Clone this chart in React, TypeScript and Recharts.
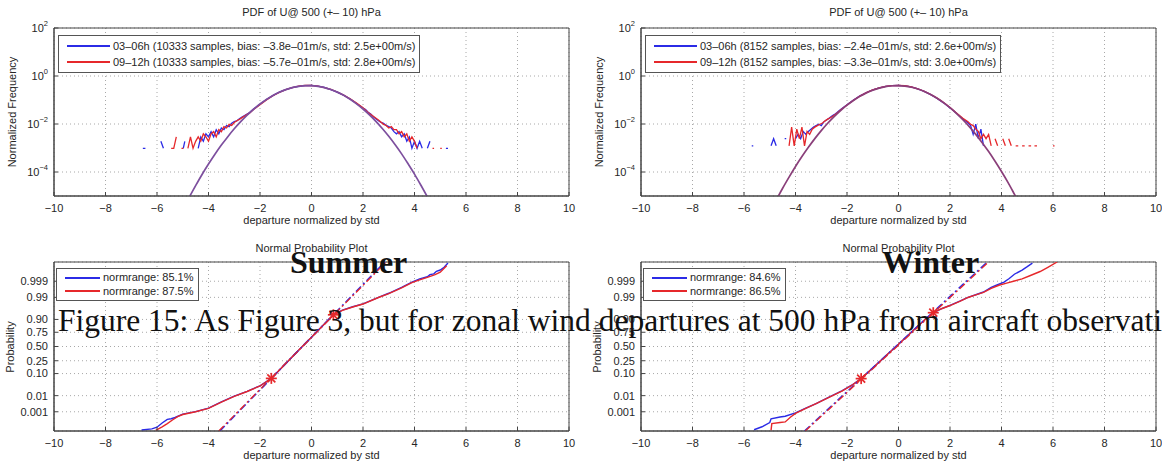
import React from "react";
import {
  ComposedChart,
  Line,
  Scatter,
  XAxis,
  YAxis,
  CartesianGrid,
  ReferenceArea,
} from "recharts";

type Pt = [number, number | null];

// ---- axis ticks / labels ----
const xTicks = [-10, -8, -6, -4, -2, 0, 2, 4, 6, 8, 10];
const pdfTicks = [1e-4, 1e-2, 1, 100];
const pdfTickExp = ["\u22124", "\u22122", "0", "2"];
const probTickValues = [0.001, 0.01, 0.1, 0.25, 0.5, 0.75, 0.9, 0.99, 0.999];
const probTickLabels = ["0.001", "0.01", "0.10", "0.25", "0.50", "0.75", "0.90", "0.99", "0.999"];

const summerLegend = [
  "03\u201306h (10333 samples, bias: \u20133.8e\u201301m/s, std: 2.5e+00m/s)",
  "09\u201312h (10333 samples, bias: \u20135.7e\u201301m/s, std: 2.8e+00m/s)",
];
const winterLegend = [
  "03\u201306h (8152 samples, bias: \u20132.4e\u201301m/s, std: 2.6e+00m/s)",
  "09\u201312h (8152 samples, bias: \u20133.3e\u201301m/s, std: 3.0e+00m/s)",
];
const summerRange = ["normrange: 85.1%", "normrange: 87.5%"];
const winterRange = ["normrange: 84.6%", "normrange: 86.5%"];

// ---- PDF panels (normalized frequency, log scale) ----
const summerFit: Pt[] = [
  [-4.75, 8.8e-6], [-4.5, 2.7e-5], [-4.25, 7.9e-5], [-4, 2.14e-4], [-3.75, 5.5e-4],
  [-3.5, 1.32e-3], [-3.25, 2.97e-3], [-3, 6.3e-3], [-2.75, 0.0125], [-2.5, 0.0235],
  [-2.25, 0.0412], [-2, 0.0681], [-1.75, 0.1057], [-1.5, 0.154], [-1.25, 0.211],
  [-1, 0.271], [-0.75, 0.327], [-0.5, 0.371], [-0.25, 0.3956], [0, 0.3961],
  [0.25, 0.3726], [0.5, 0.329], [0.75, 0.273], [1, 0.213], [1.25, 0.156],
  [1.5, 0.1075], [1.75, 0.0694], [2, 0.0422], [2.25, 0.0241], [2.5, 0.0129],
  [2.75, 6.5e-3], [3, 3.07e-3], [3.25, 1.37e-3], [3.5, 5.7e-4], [3.75, 2.2e-4],
  [4, 8.2e-5], [4.25, 2.8e-5], [4.5, 9.2e-6],
];

const summerPdfBlue: Pt[] = [
  [-6.55, 9.7e-4], [-6.45, 9.7e-4], [-6.4, null],
  [-5.85, 1.9e-3], [-5.75, 9.7e-4], [-5.7, null],
  [-4.98, 9.7e-4], [-4.92, 1.9e-3], [-4.85, null],
  [-4.4, 9.7e-4], [-4.3, 2.9e-3], [-4.2, 1.9e-3], [-4.1, 3.9e-3], [-4, 2.9e-3],
  [-3.9, 4.8e-3], [-3.8, 2.9e-3], [-3.7, 5.8e-3], [-3.6, 3.9e-3], [-3.5, 6.8e-3],
  [-3.4, 5.8e-3], [-3.3, 8.7e-3], [-3.2, 7.8e-3], [-3.1, 0.0107], [-3, 0.0126],
  [-2.9, 0.0136], [-2.8, 0.0165], [-2.7, 0.0194], [-2.6, 0.0223], [-2.5, 0.0262],
  [-2.4, 0.0301], [-2.25, 0.042], [-2, 0.067], [-1.75, 0.105], [-1.5, 0.152],
  [-1.25, 0.215], [-1, 0.27], [-0.75, 0.325], [-0.5, 0.372], [-0.25, 0.4],
  [0, 0.405], [0.25, 0.38], [0.5, 0.335], [0.75, 0.272], [1, 0.212], [1.25, 0.158],
  [1.5, 0.11], [1.75, 0.072], [2, 0.046], [2.1, 0.04], [2.2, 0.031], [2.3, 0.026],
  [2.4, 0.02], [2.5, 0.0165], [2.6, 0.0136], [2.7, 0.0117], [2.8, 0.0107],
  [2.9, 0.0087], [3, 0.0078], [3.1, 0.0068], [3.2, 0.0048], [3.3, 0.0039],
  [3.4, 0.0048], [3.5, 0.0029], [3.6, 0.0039], [3.7, 0.0019], [3.8, 0.0029],
  [3.9, 9.7e-4], [4, 0.0019], [4.1, 9.7e-4], [4.2, 0.0019], [4.3, 9.7e-4], [4.35, null],
  [4.5, 9.7e-4], [4.6, 0.0019], [4.65, null],
  [5.22, 9.7e-4], [5.3, 9.7e-4],
];

const summerPdfRed: Pt[] = [
  [-5.45, 9.7e-4], [-5.35, 9.7e-4], [-5.25, 2.9e-3], [-5.2, null],
  [-5.05, 9.7e-4], [-4.98, 9.7e-4], [-4.9, null],
  [-4.8, 9.7e-4], [-4.7, 2.9e-3], [-4.6, 9.7e-4], [-4.5, 1.9e-3], [-4.4, 2.9e-3],
  [-4.3, 1.9e-3], [-4.2, 3.9e-3], [-4.1, 2.9e-3], [-4, 1.9e-3], [-3.9, 3.9e-3],
  [-3.8, 4.8e-3], [-3.7, 2.9e-3], [-3.6, 5.8e-3], [-3.5, 4.8e-3], [-3.4, 7.8e-3],
  [-3.3, 6.8e-3], [-3.2, 9.7e-3], [-3.1, 8.7e-3], [-3, 0.0116], [-2.9, 0.0136],
  [-2.8, 0.0155], [-2.7, 0.0184], [-2.6, 0.0213], [-2.5, 0.0252], [-2.4, 0.0291],
  [-2.25, 0.04], [-2, 0.064], [-1.75, 0.101], [-1.5, 0.15], [-1.25, 0.208],
  [-1, 0.268], [-0.75, 0.328], [-0.5, 0.376], [-0.25, 0.405], [0, 0.402],
  [0.25, 0.375], [0.5, 0.33], [0.75, 0.276], [1, 0.215], [1.25, 0.16], [1.5, 0.112],
  [1.75, 0.074], [2, 0.047], [2.2, 0.03], [2.4, 0.021], [2.6, 0.0146], [2.8, 0.0097],
  [2.9, 0.0087], [3, 0.0068], [3.1, 0.0078], [3.2, 0.0058], [3.3, 0.0058],
  [3.4, 0.0039], [3.5, 0.0048], [3.6, 0.0029], [3.7, 0.0039], [3.8, 0.0019],
  [3.9, 0.0029], [4, 0.0019], [4.1, 9.7e-4], [4.15, null],
  [4.7, 9.7e-4], [4.76, 9.7e-4], [4.8, null],
  [5, 9.7e-4], [5.06, 9.7e-4],
];

const winterFit: Pt[] = [
  [-4.75, 6.7e-6], [-4.5, 2.1e-5], [-4.25, 6.1e-5], [-4, 1.7e-4], [-3.75, 4.4e-4],
  [-3.5, 1.07e-3], [-3.25, 2.46e-3], [-3, 5.3e-3], [-2.75, 0.0107], [-2.5, 0.0203],
  [-2.25, 0.0362], [-2, 0.0608], [-1.75, 0.0956], [-1.5, 0.1415], [-1.25, 0.1965],
  [-1, 0.2565], [-0.75, 0.3145], [-0.5, 0.362], [-0.25, 0.392], [0, 0.398],
  [0.25, 0.38], [0.5, 0.341], [0.75, 0.287], [1, 0.227], [1.25, 0.169], [1.5, 0.118],
  [1.75, 0.0775], [2, 0.0478], [2.25, 0.0277], [2.5, 0.015], [2.75, 7.7e-3],
  [3, 3.7e-3], [3.25, 1.67e-3], [3.5, 7.1e-4], [3.75, 2.8e-4], [4, 1.05e-4],
  [4.25, 3.7e-5], [4.5, 1.2e-5], [4.75, 3.8e-6],
];

const winterPdfBlue: Pt[] = [
  [-5.7, 1.23e-3], [-5.64, 1.23e-3], [-5.6, null],
  [-4.95, 1.23e-3], [-4.85, 2.45e-3], [-4.75, 1.23e-3], [-4.7, null],
  [-4.42, 2.45e-3], [-4.36, 2.45e-3], [-4.3, null],
  [-4, 2.45e-3], [-3.9, 3.7e-3], [-3.8, 2.45e-3], [-3.7, 4.9e-3], [-3.6, 3.7e-3],
  [-3.5, 4.9e-3], [-3.4, 6.1e-3], [-3.3, 7.4e-3], [-3.2, 8.6e-3], [-3.1, 9.8e-3],
  [-3, 8.6e-3], [-2.9, 0.0123], [-2.8, 0.0147], [-2.7, 0.0172], [-2.6, 0.0208],
  [-2.5, 0.0245], [-2.4, 0.0294], [-2.25, 0.04], [-2, 0.063], [-1.75, 0.1],
  [-1.5, 0.148], [-1.25, 0.205], [-1, 0.265], [-0.75, 0.322], [-0.5, 0.368],
  [-0.25, 0.396], [0, 0.41], [0.25, 0.39], [0.5, 0.35], [0.75, 0.29], [1, 0.228],
  [1.25, 0.168], [1.5, 0.116], [1.75, 0.076], [2, 0.047], [2.25, 0.028],
  [2.5, 0.0162], [2.6, 0.0135], [2.7, 0.011], [2.8, 0.0086], [2.9, 0.0037],
  [3, 0.0098], [3.1, 0.00245], [3.2, 0.0061], [3.3, 0.00123],
];

const winterPdfRed: Pt[] = [
  [-4.25, 1.23e-3], [-4.15, 7.4e-3], [-4.05, 1.23e-3], [-3.95, 6.1e-3], [-3.85, 2.45e-3],
  [-3.75, 7.4e-3], [-3.65, 1.23e-3], [-3.55, 4.9e-3], [-3.45, 3.7e-3], [-3.35, 6.1e-3],
  [-3.25, 7.4e-3], [-3.15, 8.6e-3], [-3.05, 9.8e-3], [-2.95, 0.011], [-2.85, 0.0135],
  [-2.75, 0.016], [-2.6, 0.0196], [-2.5, 0.0233], [-2.4, 0.0282], [-2.25, 0.038],
  [-2, 0.062], [-1.75, 0.098], [-1.5, 0.146], [-1.25, 0.203], [-1, 0.262],
  [-0.75, 0.32], [-0.5, 0.37], [-0.25, 0.4], [0, 0.405], [0.25, 0.392], [0.5, 0.352],
  [0.75, 0.294], [1, 0.232], [1.25, 0.17], [1.5, 0.12], [1.75, 0.079], [2, 0.049],
  [2.25, 0.029], [2.5, 0.0172], [2.6, 0.0147], [2.7, 0.0123], [2.8, 0.0098],
  [2.9, 0.0086], [3, 0.0061], [3.1, 0.0049], [3.2, 0.00245], [3.3, 0.0037],
  [3.4, 0.00245], [3.5, 0.0037], [3.6, 0.00123], [3.65, null],
  [3.75, 2.45e-3], [3.85, 1.23e-3], [3.9, null],
  [4.05, 2.45e-3], [4.15, 1.23e-3], [4.2, null],
  [4.28, 2.45e-3], [4.38, 1.23e-3], [4.42, null],
  [4.55, 1.23e-3], [4.65, 1.23e-3], [4.7, null],
  [4.8, 1.23e-3], [4.9, 1.23e-3], [4.95, null],
  [5.05, 1.23e-3], [5.15, 1.23e-3], [5.2, null],
  [5.28, 1.23e-3], [5.38, 1.23e-3], [5.42, null],
  [6, 1.23e-3], [6.06, 1.23e-3],
];

// ---- normal probability panels (y = standard normal quantile) ----
const summerNormBlue: Pt[] = [
  [-6.6, -3.95], [-6.2, -3.9], [-6, -3.82], [-5.8, -3.62], [-5.6, -3.45], [-5.45, -3.42],
  [-5.3, -3.36], [-5, -3.2], [-4.5, -3.08], [-4, -2.92], [-3.5, -2.62], [-3, -2.35],
  [-2.5, -2.12], [-2, -1.86], [-1.56, -1.51], [-1, -0.81], [-0.5, -0.18], [0, 0.44],
  [0.5, 1.06], [0.85, 1.5], [1.2, 1.72], [1.6, 1.88], [2, 2.02], [2.6, 2.33], [3, 2.52],
  [3.5, 2.8], [3.9, 3.05], [4.2, 3.2], [4.5, 3.3], [4.6, 3.4], [4.75, 3.44], [4.85, 3.56],
  [5, 3.62], [5.15, 3.75], [5.3, 3.95],
];
const summerNormRed: Pt[] = [
  [-6.05, -3.97], [-5.8, -3.8], [-5.6, -3.65], [-5.4, -3.48], [-5.2, -3.32], [-5, -3.22],
  [-4.5, -3.09], [-4, -2.93], [-3.5, -2.63], [-3, -2.36], [-2.5, -2.13], [-2, -1.87],
  [-1.56, -1.51], [-1, -0.81], [-0.5, -0.18], [0, 0.44], [0.5, 1.06], [0.85, 1.5],
  [1.2, 1.71], [1.6, 1.87], [2, 2.01], [2.6, 2.32], [3, 2.5], [3.5, 2.78], [3.9, 3.02],
  [4.2, 3.15], [4.5, 3.27], [4.8, 3.4], [5, 3.52], [5.25, 3.82],
];
const summerRefBlue: Pt[] = [[-3.56, -4], [2.85, 4]];
const summerRefRed: Pt[] = [[-3.6, -4], [2.9, 4]];
const summerStars: Pt[] = [[-1.56, -1.51], [0.85, 1.5]];

const winterNormBlue: Pt[] = [
  [-5.61, -3.94], [-5.3, -3.8], [-5, -3.6], [-4.95, -3.42], [-4.6, -3.34], [-4.4, -3.3],
  [-4, -3.14], [-3.6, -2.92], [-3.2, -2.7], [-2.7, -2.4], [-2.2, -2.1], [-1.8, -1.82],
  [-1.45, -1.52], [-1, -1.02], [-0.5, -0.45], [0, 0.11], [0.5, 0.67], [1, 1.24],
  [1.35, 1.6], [1.7, 1.8], [2, 1.95], [2.4, 2.16], [2.7, 2.33], [3, 2.45], [3.3, 2.58],
  [3.6, 2.8], [3.8, 2.9], [4.1, 3.05], [4.3, 3.22], [4.5, 3.42], [4.8, 3.62], [5, 3.78],
  [5.2, 3.95],
];
const winterNormRed: Pt[] = [
  [-4.95, -3.97], [-4.92, -3.65], [-4.6, -3.6], [-4.4, -3.57], [-4.2, -3.35], [-4, -3.17],
  [-3.6, -2.93], [-3.2, -2.7], [-2.7, -2.41], [-2.2, -2.11], [-1.8, -1.83], [-1.45, -1.52],
  [-1, -1.02], [-0.5, -0.45], [0, 0.11], [0.5, 0.67], [1, 1.24], [1.35, 1.6], [1.7, 1.8],
  [2, 1.94], [2.4, 2.15], [2.7, 2.32], [3, 2.44], [3.3, 2.56], [3.6, 2.75], [3.9, 2.9],
  [4.2, 3], [4.5, 3.1], [4.8, 3.2], [5.1, 3.35], [5.5, 3.55], [5.8, 3.75], [6.16, 4],
];
const winterRefBlue: Pt[] = [[-3.65, -4], [3.45, 4]];
const winterRefRed: Pt[] = [[-3.62, -4], [3.5, 4]];
const winterStars: Pt[] = [[-1.45, -1.52], [1.35, 1.6]];

const BLUE = "#2b2be6";
const RED = "#e6282b";
const TEXT = "#262626";
const SANS = '"Liberation Sans", Arial, sans-serif';
const SERIF = '"Liberation Serif", "DejaVu Serif", serif';

const rows = (pts: Pt[]) => pts.map(([x, y]) => ({ x, y }));

// inverse standard normal CDF (Acklam) for the probability axis
function probit(p: number): number {
  const a = [-39.69683028665376, 220.9460984245205, -275.9285104469687, 138.357751867269, -30.66479806614716, 2.506628277459239];
  const b = [-54.47609879822406, 161.5858368580409, -155.6989798598866, 66.80131188771972, -13.28068155288572];
  const c = [-0.007784894002430293, -0.3223964580411365, -2.400758277161838, -2.549732539343734, 4.374664141464968, 2.938163982698783];
  const d = [0.007784695709041462, 0.3224671290700398, 2.445134137142996, 3.754408661907416];
  const tail = (q: number) =>
    (((((c[0] * q + c[1]) * q + c[2]) * q + c[3]) * q + c[4]) * q + c[5]) /
    ((((d[0] * q + d[1]) * q + d[2]) * q + d[3]) * q + 1);
  if (p < 0.02425) return tail(Math.sqrt(-2 * Math.log(p)));
  if (p > 1 - 0.02425) return -tail(Math.sqrt(-2 * Math.log(1 - p)));
  const q = p - 0.5;
  const r = q * q;
  return ((((((a[0] * r + a[1]) * r + a[2]) * r + a[3]) * r + a[4]) * r + a[5]) * q) /
    (((((b[0] * r + b[1]) * r + b[2]) * r + b[3]) * r + b[4]) * r + 1);
}
const probTicks = probTickValues.map(probit);

const fmtX = (v: number) => (v < 0 ? `\u2212${-v}` : `${v}`);

const PowTick = (props: any) => {
  const { x, y, payload } = props;
  const i = payload.index ?? pdfTicks.indexOf(payload.value);
  return (
    <text x={x} y={y} dy={4} textAnchor="end" fontSize={11} fill={TEXT} fontFamily={SANS}>
      10
      <tspan dy={-6} fontSize={7.5}>{pdfTickExp[i]}</tspan>
    </text>
  );
};

const StarMark = (props: any) => {
  const { cx, cy } = props;
  if (cx == null || cy == null) return null;
  const r = 5.5;
  const s = 4;
  return (
    <g stroke={RED} strokeWidth={1.7}>
      <line x1={cx - r} y1={cy} x2={cx + r} y2={cy} />
      <line x1={cx} y1={cy - r} x2={cx} y2={cy + r} />
      <line x1={cx - s} y1={cy - s} x2={cx + s} y2={cy + s} />
      <line x1={cx - s} y1={cy + s} x2={cx + s} y2={cy - s} />
    </g>
  );
};

const tickStyle = { fontSize: 11, fill: TEXT, fontFamily: SANS };

function Label({ x, y, text, rotate = false, size = 11 }: { x: number; y: number; text: string; rotate?: boolean; size?: number }) {
  return (
    <div
      style={{
        position: "absolute",
        left: x,
        top: y,
        transform: `translate(-50%, -50%)${rotate ? " rotate(-90deg)" : ""}`,
        fontSize: size,
        whiteSpace: "nowrap",
        color: TEXT,
        fontFamily: SANS,
      }}
    >
      {text}
    </div>
  );
}

function LegendBox({ x, y, items, lineW, rowH }: { x: number; y: number; items: string[]; lineW: number; rowH: number }) {
  return (
    <div
      style={{
        position: "absolute",
        left: x,
        top: y,
        border: "1px solid #555",
        background: "#fff",
        padding: "2px 4px 2px 8px",
        fontSize: 11,
        lineHeight: `${rowH}px`,
        whiteSpace: "nowrap",
        color: TEXT,
        fontFamily: SANS,
      }}
    >
      {items.map((t, i) => (
        <div key={i} style={{ display: "flex", alignItems: "center" }}>
          <span style={{ width: lineW, borderTop: `2px solid ${i ? RED : BLUE}`, marginRight: 3 }} />
          <span>{t}</span>
        </div>
      ))}
    </div>
  );
}

const CX = 311.5; // horizontal centre of the plot area inside a panel

function PdfPanel({ left, blue, red, fit, fitColor, legend }: { left: number; blue: Pt[]; red: Pt[]; fit: Pt[]; fitColor: string; legend: string[] }) {
  return (
    <div style={{ position: "absolute", left, top: 0, width: 580, height: 232 }}>
      <ComposedChart width={580} height={232} margin={{ top: 28, right: 11, bottom: 6, left: 14 }}>
        <CartesianGrid stroke="#a8a8a8" strokeDasharray="1 3" />
        <XAxis
          type="number"
          dataKey="x"
          domain={[-10, 10]}
          ticks={xTicks}
          interval={0}
          allowDataOverflow
          height={30}
          tick={tickStyle}
          tickFormatter={fmtX}
          tickSize={-4}
          tickMargin={12}
          stroke="#444"
        />
        <YAxis
          type="number"
          scale="log"
          domain={[1e-5, 100]}
          ticks={pdfTicks}
          interval={0}
          allowDataOverflow
          width={40}
          tick={<PowTick />}
          tickSize={-4}
          tickMargin={10}
          stroke="#444"
        />
        <ReferenceArea x1={-10} x2={10} y1={1e-5} y2={100} fill="none" stroke="#444" strokeWidth={1} />
        <Line data={rows(blue)} dataKey="y" stroke={BLUE} strokeWidth={1.3} dot={false} isAnimationActive={false} />
        <Line data={rows(red)} dataKey="y" stroke={RED} strokeWidth={1.3} dot={false} isAnimationActive={false} />
        <Line data={rows(fit)} dataKey="y" type="monotoneX" stroke={fitColor} strokeWidth={1.7} dot={false} isAnimationActive={false} />
      </ComposedChart>
      <Label x={CX} y={12} text={"PDF of U@ 500 (+\u2013 10) hPa"} />
      <Label x={CX} y={220} text="departure normalized by std" />
      <Label x={12} y={112} text="Normalized Frequency" rotate />
      <LegendBox x={58} y={35} items={legend} lineW={43} rowH={16} />
    </div>
  );
}

function NormPanel({ left, blue, red, refBlue, refRed, stars, legend }: { left: number; blue: Pt[]; red: Pt[]; refBlue: Pt[]; refRed: Pt[]; stars: Pt[]; legend: string[] }) {
  return (
    <div style={{ position: "absolute", left, top: 232, width: 580, height: 233 }}>
      <ComposedChart width={580} height={233} margin={{ top: 30, right: 11, bottom: 4, left: 14 }}>
        <CartesianGrid stroke="#a8a8a8" strokeDasharray="1 3" />
        <XAxis
          type="number"
          dataKey="x"
          domain={[-10, 10]}
          ticks={xTicks}
          interval={0}
          allowDataOverflow
          height={30}
          tick={tickStyle}
          tickFormatter={fmtX}
          tickSize={-4}
          tickMargin={12}
          stroke="#444"
        />
        <YAxis
          type="number"
          domain={[-4, 4]}
          ticks={probTicks}
          interval={0}
          allowDataOverflow
          width={40}
          tick={tickStyle}
          tickFormatter={(_v: number, i: number) => probTickLabels[i]}
          tickSize={-4}
          tickMargin={10}
          stroke="#444"
        />
        <ReferenceArea x1={-10} x2={10} y1={-4} y2={4} fill="none" stroke="#444" strokeWidth={1} />
        <Line data={rows(blue)} dataKey="y" stroke={BLUE} strokeWidth={1.4} dot={false} isAnimationActive={false} />
        <Line data={rows(red)} dataKey="y" stroke={RED} strokeWidth={1.4} dot={false} isAnimationActive={false} />
        <Line data={rows(refBlue)} dataKey="y" stroke={BLUE} strokeWidth={1.6} strokeDasharray="7 3 2 3" dot={false} isAnimationActive={false} />
        <Line data={rows(refRed)} dataKey="y" stroke={RED} strokeWidth={1.3} strokeDasharray="7 3 2 3" dot={false} isAnimationActive={false} />
        <Scatter data={rows(stars)} dataKey="y" shape={(p: any) => <StarMark {...p} />} isAnimationActive={false} />
      </ComposedChart>
      <Label x={CX} y={16} text="Normal Probability Plot" />
      <Label x={CX} y={223} text="departure normalized by std" />
      <Label x={10} y={115} text="Probability" rotate />
      <LegendBox x={56} y={36} items={legend} lineW={35} rowH={13.5} />
    </div>
  );
}

export default function App() {
  return (
    <div
      style={{
        position: "fixed",
        left: 0,
        top: 0,
        width: 1162,
        height: 465,
        background: "#fff",
        overflow: "hidden",
      }}
    >
      <PdfPanel left={0} blue={summerPdfBlue} red={summerPdfRed} fit={summerFit} fitColor="#7d4f9e" legend={summerLegend} />
      <PdfPanel left={587} blue={winterPdfBlue} red={winterPdfRed} fit={winterFit} fitColor="#8a3f7a" legend={winterLegend} />
      <NormPanel left={0} blue={summerNormBlue} red={summerNormRed} refBlue={summerRefBlue} refRed={summerRefRed} stars={summerStars} legend={summerRange} />
      <NormPanel left={587} blue={winterNormBlue} red={winterNormRed} refBlue={winterRefBlue} refRed={winterRefRed} stars={winterStars} legend={winterRange} />
      <svg width={1162} height={465} style={{ position: "absolute", left: 0, top: 0, pointerEvents: "none" }}>
        <text x={290} y={273} fontFamily={SERIF} fontWeight="bold" fontSize={32} fill="#111">Summer</text>
        <text x={882} y={273} fontFamily={SERIF} fontWeight="bold" fontSize={32} fill="#111">Winter</text>
        <text x={58} y={331} fontFamily={SERIF} fontSize={31.5} fill="#111">
          Figure 15: As Figure 3, but for zonal wind departures at 500 hPa from aircraft observations.
        </text>
      </svg>
    </div>
  );
}
